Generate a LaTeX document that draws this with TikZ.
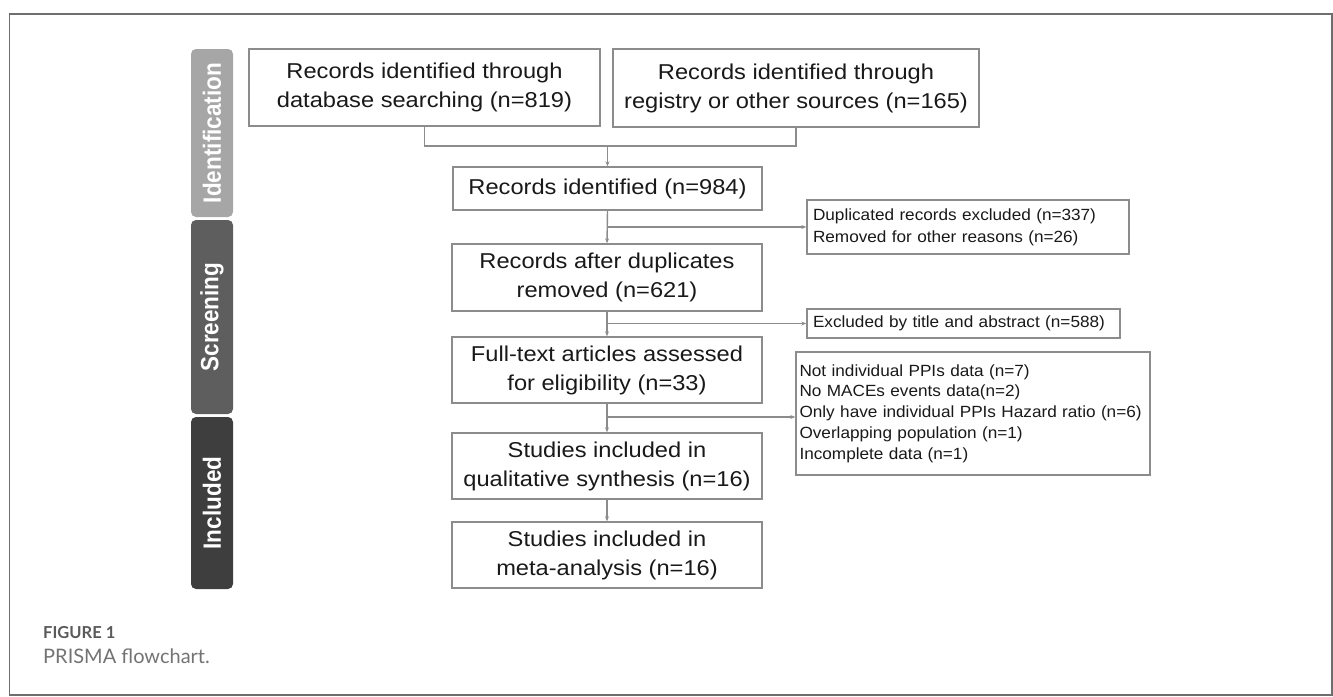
\documentclass[tikz,border=0pt]{standalone}
\usepackage{fontspec}
\setmainfont{Liberation Sans}
\newfontfamily\capfont{Lato}
\newfontfamily\boxfont[FakeStretch=1.1]{Liberation Sans}
\newfontfamily\smallfont[FakeStretch=1.06]{Liberation Sans}
\newfontfamily\phasefont[FakeStretch=0.9]{Liberation Sans}
\usetikzlibrary{arrows.meta}
\definecolor{lineg}{HTML}{8C8C8C}
\definecolor{frameg}{HTML}{6E6E6E}
\definecolor{idg}{HTML}{A6A6A6}
\definecolor{scg}{HTML}{5E5E5E}
\definecolor{ing}{HTML}{3E3E3E}
\definecolor{capg}{HTML}{5A5A5A}
\tikzset{
  mainbox/.style={draw=lineg, line width=1.4pt, align=center, inner sep=0pt,
    font=\boxfont\fontsize{21.5}{29}\selectfont, text=black!90},
  sidebox/.style={draw=lineg, line width=1.4pt, align=left, inner sep=0pt,
    font=\smallfont\fontsize{16.2}{22}\selectfont, text=black!90},
  phase/.style={rounded corners=5pt, inner sep=0pt, minimum width=42pt},
  phasetext/.style={rotate=90, text=white, font=\phasefont\fontsize{25}{25}\selectfont\bfseries},
  conn/.style={draw=lineg, line width=1.4pt},
  arr/.style={conn, -{Stealth[length=5pt,width=4pt]}}
}
\begin{document}
\begin{tikzpicture}[x=1pt,y=-1pt]
\useasboundingbox (0,0) rectangle (1333,696);
\draw[frameg, line width=1.3pt] (9.5,14) rectangle (1332,695);

% phase bars
\node[phase, fill=idg, minimum height=168pt] (pid) at (212,133) {};
\node[phasetext] at (pid.center) {Identification};
\node[phase, fill=scg, minimum height=194pt] (psc) at (212,317) {};
\node[phasetext] at (psc.center) {Screening};
\node[phase, fill=ing, minimum height=172pt] (pin) at (212,503) {};
\node[phasetext] at (pin.center) {Included};

% main boxes
\node[mainbox, minimum width=351pt, minimum height=77pt] (db) at (424.5,87.5)
  {Records identified through\\database searching (n=819)};
\node[mainbox, minimum width=366pt, minimum height=78pt] (reg) at (796,88)
  {Records identified through\\registry or other sources (n=165)};
\node[mainbox, minimum width=309pt, minimum height=43pt] (ident) at (607.5,188.5)
  {Records identified (n=984)};
\node[mainbox, minimum width=310pt, minimum height=67pt] (dup) at (607,277.5)
  {Records after duplicates\\removed (n=621)};
\node[mainbox, minimum width=310pt, minimum height=66pt] (full) at (607,370)
  {Full-text articles assessed\\for eligibility (n=33)};
\node[mainbox, minimum width=310pt, minimum height=66pt] (qual) at (607,466)
  {Studies included in\\qualitative synthesis (n=16)};
\node[mainbox, minimum width=310pt, minimum height=66pt] (meta) at (607,555)
  {Studies included in\\meta-analysis (n=16)};

% side boxes
\node[sidebox, minimum width=322pt, minimum height=54pt, text width=310pt] (ex1) at (968,227)
  {Duplicated records excluded (n=337)\\Removed for other reasons (n=26)};
\node[sidebox, minimum width=313pt, minimum height=29pt, text width=301pt] (ex2) at (963.5,323.5)
  {Excluded by title and abstract (n=588)};
\node[sidebox, minimum width=354pt, minimum height=123pt, text width=347pt,
  font=\smallfont\fontsize{16.2}{20.7}\selectfont] (ex3) at (973,413.5)
  {Not individual PPIs data (n=7)\\No MACEs events data(n=2)\\Only have individual PPIs Hazard ratio (n=6)\\Overlapping population (n=1)\\Incomplete data (n=1)};

% connectors
\coordinate (j) at (607.5,146);
\draw[conn] (db.south) |- (j);
\draw[conn] (reg.south) |- (j);
\draw[arr] (j) -- (ident.north);
\draw[arr] (ident.south) -- (dup.north);
\draw[arr] (ident.south |- ex1.west) -- (ex1.west);
\draw[arr] (dup.south) -- (full.north);
\draw[arr] (dup.south |- ex2.west) -- (ex2.west);
\draw[arr] (full.south) -- (qual.north);
\coordinate (j3) at (607,417);
\draw[arr] (j3) -- (ex3.west |- j3);
\draw[arr] (qual.south) -- (meta.north);

% caption
\node[anchor=base west, inner sep=0pt, text=capg, font=\capfont\fontsize{16.5}{16.5}\selectfont\bfseries] (figlab) at (43,638) {FIGURE 1};
\node[anchor=base west, inner sep=0pt, text=capg!85, font=\capfont\fontsize{20}{20}\selectfont] (figcap) at (43,663) {PRISMA flowchart.};
\end{tikzpicture}
\end{document}
